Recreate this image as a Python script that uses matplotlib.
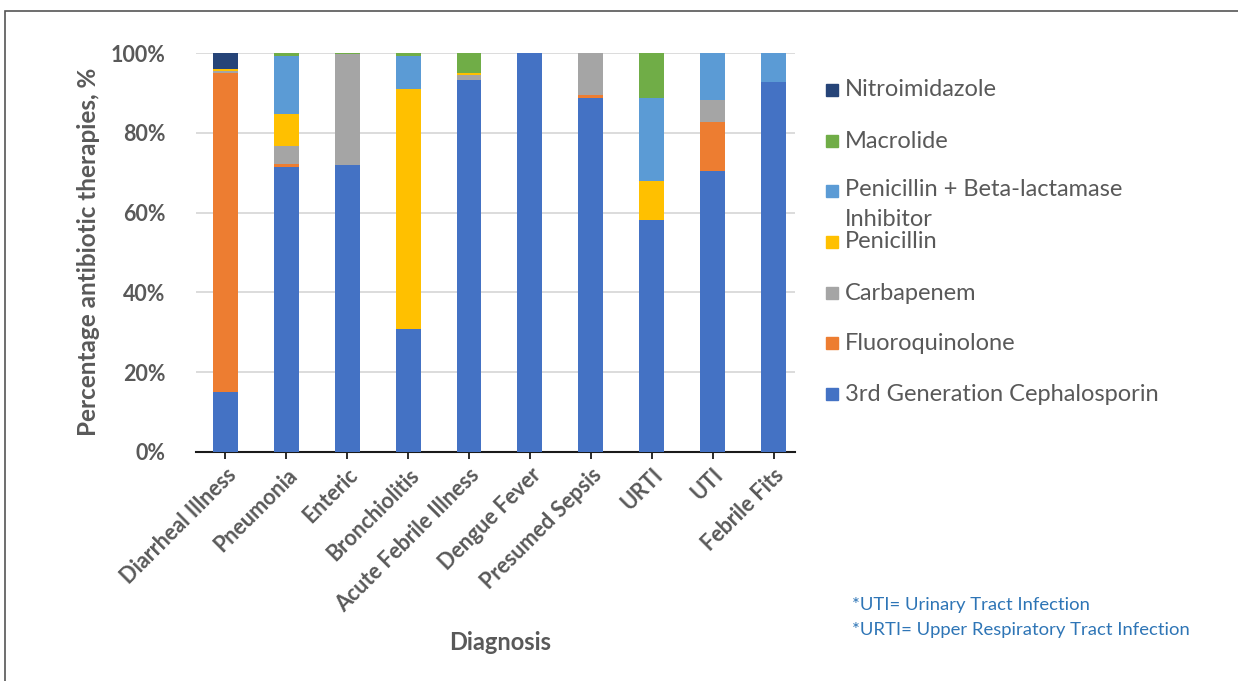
import matplotlib
matplotlib.use("Agg")
import matplotlib.pyplot as plt
from matplotlib.patches import Rectangle
import numpy as np

plt.rcParams['font.family'] = ['Lato', 'DejaVu Sans']

categories = ['Diarrheal Illness', 'Pneumonia', 'Enteric', 'Bronchiolitis',
              'Acute Febrile Illness', 'Dengue Fever', 'Presumed Sepsis',
              'URTI', 'UTI', 'Febrile Fits']

# percent of therapies per diagnosis, bottom to top
cephalosporin = [15.0, 71.5, 71.9, 30.8, 93.2, 100.0, 88.7, 58.1, 70.5, 92.8]
fluoroquinolone = [79.9, 0.7, 0.0, 0.0, 0.0, 0.0, 0.7, 0.0, 12.3, 0.0]
carbapenem = [0.6, 4.6, 27.8, 0.0, 1.2, 0.0, 10.6, 0.0, 5.5, 0.0]
penicillin = [0.4, 7.8, 0.0, 60.3, 0.6, 0.0, 0.0, 9.9, 0.0, 0.0]
pen_bli = [0.0, 14.7, 0.0, 8.1, 0.0, 0.0, 0.0, 20.7, 11.7, 7.2]
macrolide = [0.0, 0.7, 0.3, 0.8, 5.0, 0.0, 0.0, 11.3, 0.0, 0.0]
nitroimidazole = [4.1, 0.0, 0.0, 0.0, 0.0, 0.0, 0.0, 0.0, 0.0, 0.0]

series_names = ['3rd Generation Cephalosporin', 'Fluoroquinolone', 'Carbapenem',
                'Penicillin', 'Penicillin + Beta-lactamase\nInhibitor',
                'Macrolide', 'Nitroimidazole']
series_values = [cephalosporin, fluoroquinolone, carbapenem, penicillin,
                 pen_bli, macrolide, nitroimidazole]
colors = ['#4472C4', '#ED7D31', '#A5A5A5', '#FFC000', '#5B9BD5', '#70AD47', '#264478']

W, H = 1238, 681
fig = plt.figure(figsize=(W / 100, H / 100), dpi=100)
ax = fig.add_axes([196 / W, 1 - 452 / H, (795 - 196) / W, (452 - 53) / H])

x = np.arange(len(categories))
bottom = np.zeros(len(categories))
for name, vals, c in zip(series_names, series_values, colors):
    vals = np.array(vals)
    ax.bar(x, vals, 0.41, bottom=bottom, color=c, zorder=3, label=name)
    bottom += vals

ax.set_xlim(-0.48, 9.35)
ax.set_ylim(0, 100)
ax.set_yticks(np.arange(0, 101, 20))
ax.set_yticklabels([f'{v}%' for v in range(0, 101, 20)])
ax.yaxis.grid(True, color='#D9D9D9', linewidth=1.3, zorder=0)
ax.set_axisbelow(True)
for s in ['top', 'right', 'left']:
    ax.spines[s].set_visible(False)
ax.spines['bottom'].set_color('#1a1a1a')
ax.spines['bottom'].set_linewidth(1.5)
ax.tick_params(axis='y', length=0, pad=22, labelsize=15.5, labelcolor='#595959')
ax.tick_params(axis='x', length=5, width=1.3, color='#1a1a1a', pad=4,
               labelsize=15.5, labelcolor='#595959')
ax.set_xticks(x)
ax.set_xticklabels(categories, rotation=45, ha='right', rotation_mode='anchor')
for lbl in ax.get_xticklabels() + ax.get_yticklabels():
    lbl.set_fontweight('bold')

fig.text(88 / W, 1 - 252 / H, 'Percentage antibiotic therapies, %', rotation=90,
         ha='center', va='center', fontsize=17.5, fontweight='bold', color='#595959')
fig.text(500 / W, 1 - 643 / H, 'Diagnosis', ha='center', va='center',
         fontsize=17, fontweight='bold', color='#595959')

# legend, drawn by hand to keep Excel-like spacing
leg_y = [394, 343, 293, 242, 191, 141, 90]
for name, c, yy in zip(series_names, colors, leg_y):
    fig.patches.append(Rectangle((826 / W, 1 - (yy + 6) / H), 12 / W, 12 / H,
                                 transform=fig.transFigure, color=c))
    if '\n' in name:
        fig.text(845 / W, 1 - (yy - 12) / H, name, ha='left', va='top',
                 fontsize=17, color='#595959', linespacing=1.5)
    else:
        fig.text(845 / W, 1 - yy / H, name, ha='left', va='center',
                 fontsize=17, color='#595959')

fig.text(852 / W, 1 - 605 / H, '*UTI= Urinary Tract Infection', ha='left', va='center',
         fontsize=13.3, color='#2E75B6')
fig.text(852 / W, 1 - 630 / H, '*URTI= Upper Respiratory Tract Infection', ha='left',
         va='center', fontsize=13.3, color='#2E75B6')

# outer frame of the slide
fig.patches.append(Rectangle((5 / W, -0.1), 1.2, 1 - 11 / H + 0.1, transform=fig.transFigure,
                             fill=False, edgecolor='#555555', linewidth=1.2))

fig.savefig('out.png', dpi=100)
